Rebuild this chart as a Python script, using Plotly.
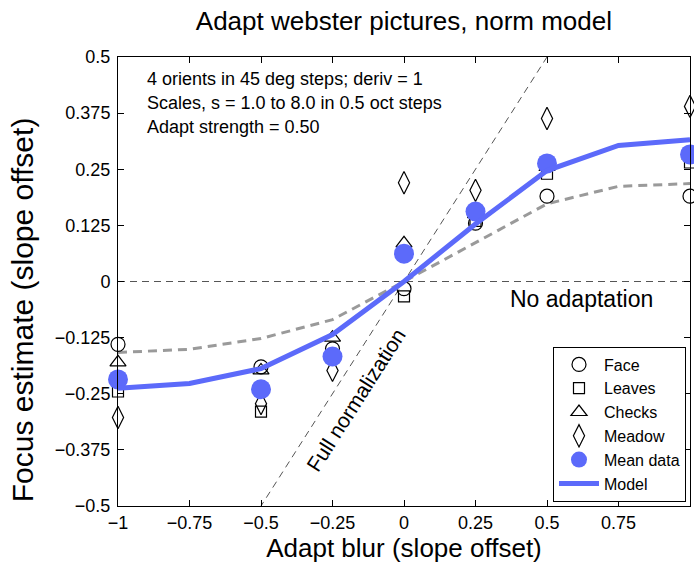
import plotly.graph_objects as go

adapt = [-1, -0.5, -0.25, 0, 0.25, 0.5, 1]
face = [-0.140, -0.190, -0.150, -0.016, 0.130, 0.190, 0.190]
leaves = [-0.245, -0.290, -0.165, -0.033, 0.135, 0.240, 0.265]
checks = [-0.180, -0.198, -0.125, 0.085, 0.150, 0.255, 0.280]
meadow = [-0.303, -0.272, -0.198, 0.220, 0.203, 0.363, 0.390]
mean_data = [-0.218, -0.240, -0.167, 0.062, 0.156, 0.263, 0.283]

model_x = [-1, -0.75, -0.5, -0.25, 0, 0.25, 0.5, 0.75, 1]
model = [-0.238, -0.227, -0.194, -0.118, 0.0, 0.128, 0.247, 0.303, 0.316]
model_full = [-0.158, -0.151, -0.127, -0.085, 0.0, 0.087, 0.173, 0.212, 0.218]

ref_x = [-1, 1]
xticks = [-1, -0.75, -0.5, -0.25, 0, 0.25, 0.5, 0.75, 1]
xticklabels = ["\u22121", "\u22120.75", "\u22120.5", "\u22120.25", "0", "0.25", "0.5", "0.75", "1"]
yticks = [-0.5, -0.375, -0.25, -0.125, 0, 0.125, 0.25, 0.375, 0.5]
yticklabels = ["\u22120.5", "\u22120.375", "\u22120.25", "\u22120.125", "0", "0.125", "0.25", "0.375", "0.5"]

FONT = "Liberation Sans, Arial, Helvetica, sans-serif"
BLUE = "rgb(92,106,250)"

fig = go.Figure()

# reference lines
fig.add_trace(go.Scatter(x=ref_x, y=[0, 0], mode="lines", showlegend=False,
                         line=dict(color="#555", width=1, dash="7px,5px"), hoverinfo="skip"))
fig.add_trace(go.Scatter(x=ref_x, y=ref_x, mode="lines", showlegend=False,
                         line=dict(color="#555", width=1, dash="7px,5px"), hoverinfo="skip"))
fig.add_trace(go.Scatter(x=model_x, y=model_full, mode="lines", showlegend=False,
                         line=dict(color="#9a9a9a", width=3, dash="9px,6px")))

fig.add_trace(go.Scatter(x=adapt, y=face, mode="markers", name="Face", cliponaxis=False,
                         marker=dict(symbol="circle-open", size=14, color="black", line=dict(width=1.2))))
fig.add_trace(go.Scatter(x=adapt, y=leaves, mode="markers", name="Leaves", cliponaxis=False,
                         marker=dict(symbol="square-open", size=11, color="black", line=dict(width=1.2))))
fig.add_trace(go.Scatter(x=adapt, y=checks, mode="markers", name="Checks", cliponaxis=False,
                         marker=dict(symbol="triangle-up-open", size=14, color="black", line=dict(width=1.2))))
fig.add_trace(go.Scatter(x=adapt, y=meadow, mode="markers", name="Meadow", cliponaxis=False,
                         marker=dict(symbol="diamond-tall-open", size=16, color="black", line=dict(width=1.2))))
fig.add_trace(go.Scatter(x=adapt, y=mean_data, mode="markers", name="Mean data", cliponaxis=False,
                         marker=dict(symbol="circle", size=20, color=BLUE)))
fig.add_trace(go.Scatter(x=model_x, y=model, mode="lines", name="Model",
                         line=dict(color=BLUE, width=5)))

ann_font = dict(family=FONT, size=18, color="black")
lines = ["4 orients in 45 deg steps; deriv = 1",
         "Scales, s = 1.0 to 8.0 in 0.5 oct steps",
         "Adapt strength = 0.50"]
for i, t in enumerate(lines):
    fig.add_annotation(x=-0.905, y=0.452 - i * 0.0545, xref="x", yref="y", text=t,
                       showarrow=False, xanchor="left", yanchor="middle", font=ann_font)
fig.add_annotation(x=0.622, y=-0.04, xref="x", yref="y", text="No adaptation",
                   showarrow=False, font=dict(family=FONT, size=23, color="black"))
fig.add_annotation(x=-0.168, y=-0.262, xref="x", yref="y", text="Full normalization",
                   showarrow=False, textangle=-57.5, font=dict(family=FONT, size=21, color="black"))
# y-axis title (placed as in the reference, slightly below the axis centre)
fig.add_annotation(x=-0.168, y=-0.062, xref="paper", yref="y", text="Focus estimate (slope offset)",
                   showarrow=False, textangle=-90, xanchor="center", yanchor="middle",
                   font=dict(family=FONT, size=30, color="black"))

axis_common = dict(showgrid=False, zeroline=False, showline=True, linecolor="black", linewidth=1,
                   mirror="ticks", ticks="inside", ticklen=6, tickcolor="black",
                   tickfont=dict(family=FONT, size=18, color="black"))
fig.update_xaxes(range=[-1, 1], tickvals=xticks, ticktext=xticklabels,
                 title=dict(text="Adapt blur (slope offset)", font=dict(family=FONT, size=26, color="black"), standoff=7),
                 **axis_common)
fig.update_yaxes(range=[-0.5, 0.5], tickvals=yticks, ticktext=yticklabels, ticklabelstandoff=3,
                 **axis_common)

fig.update_layout(
    width=694, height=572,
    margin=dict(l=118, r=4, t=57, b=66),
    plot_bgcolor="white", paper_bgcolor="white",
    title=dict(text="Adapt webster pictures, norm model", x=0.582, xanchor="center", y=0.963, yanchor="middle",
               font=dict(family=FONT, size=26, color="black")),
    legend=dict(x=0.993, xanchor="right", y=0.01, yanchor="bottom", bgcolor="white",
                bordercolor="black", borderwidth=1, font=dict(family=FONT, size=16, color="black"),
                tracegroupgap=0, itemwidth=40),
    showlegend=True,
)

fig.write_html("out.html")
